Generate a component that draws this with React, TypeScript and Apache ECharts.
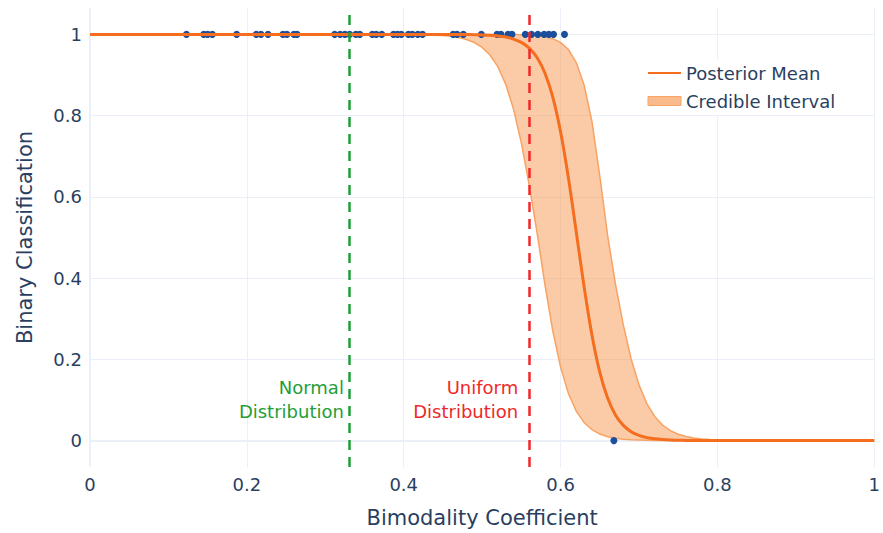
import { useEffect, useRef } from 'react';
import * as echarts from 'echarts';

// Grid of bimodality-coefficient values at which the logistic fit is summarised
const curveX = [
  0, 0.1, 0.2, 0.3, 0.4, 0.42, 0.44, 0.45, 0.46, 0.47, 0.48, 0.49, 0.5, 0.51, 0.52, 0.53, 0.54,
  0.55, 0.56, 0.57, 0.58, 0.59, 0.6, 0.61, 0.62, 0.63, 0.64, 0.65, 0.66, 0.67, 0.68, 0.69, 0.7,
  0.71, 0.72, 0.73, 0.74, 0.75, 0.76, 0.77, 0.78, 0.79, 0.8, 0.82, 0.85, 0.9, 1.0,
];

// Posterior mean of P(class = 1)
const meanY = [
  1, 1, 1, 1, 1, 1, 1, 0.9999, 0.9999, 0.9998, 0.9996, 0.9993, 0.9987, 0.9978, 0.9962, 0.9934, 0.9885,
  0.9803, 0.9663, 0.943, 0.9051, 0.8462, 0.7604, 0.6468, 0.5137, 0.3787, 0.2602, 0.1687, 0.1048, 0.0633,
  0.0375, 0.022, 0.0128, 0.0074, 0.0043, 0.0025, 0.0014, 0.0008, 0.0005, 0.0003, 0.0002, 0.0001, 0.0001,
  0, 0, 0, 0,
];

// Lower edge of the credible interval
const lowerY = [
  1, 1, 1, 1, 0.9997, 0.9993, 0.9981, 0.997, 0.9952, 0.9922, 0.9875, 0.98, 0.968, 0.9493, 0.9206, 0.8776,
  0.8161, 0.733, 0.6295, 0.5125, 0.3846, 0.2709, 0.1809, 0.1161, 0.0724, 0.0444, 0.0268, 0.0161, 0.0097,
  0.0058, 0.0034, 0.002, 0.0012, 0.0007, 0.0004, 0.0002, 0.0001, 0, 0, 0, 0, 0, 0, 0, 0, 0, 0,
];

// Upper edge of the credible interval
const upperY = [
  1, 1, 1, 1, 1, 1, 1, 1, 1, 1, 1, 1, 1, 1, 0.9999, 0.9998, 0.9996, 0.9992, 0.9985, 0.9971, 0.9945,
  0.9895, 0.9802, 0.9627, 0.9309, 0.8754, 0.7858, 0.652, 0.505, 0.385, 0.285, 0.201, 0.1371, 0.0911,
  0.0595, 0.0384, 0.0246, 0.0157, 0.01, 0.0063, 0.004, 0.0025, 0.0016, 0.0006, 0.0002, 0, 0,
];

// Observed coefficients, split by binary class
const classOneX = [
  0.123, 0.145, 0.15, 0.156, 0.187, 0.212, 0.218, 0.227, 0.246, 0.251, 0.26, 0.264, 0.312, 0.319,
  0.325, 0.331, 0.339, 0.344, 0.36, 0.365, 0.372, 0.387, 0.392, 0.397, 0.406, 0.411, 0.418, 0.424,
  0.463, 0.468, 0.476, 0.499, 0.519, 0.524, 0.533, 0.538, 0.555, 0.563, 0.571, 0.579, 0.585, 0.591,
  0.605,
];
const classZeroX = [0.668];

// Reference bimodality coefficients
const normalBC = 0.3333;
const uniformBC = 0.5556;

const yTicks = [0, 0.2, 0.4, 0.6, 0.8, 1];

const FONT = '"DejaVu Sans", Verdana, sans-serif';
const INK = '#2a3f5f';
const GRID = '#ebf0f8';
const ORANGE = '#f56e1f';
const BAND_EDGE = '#f8a263';
const BAND_FILL = 'rgba(247, 140, 60, 0.45)';
const GREEN = '#1f9e38';
const RED = '#f02828';
const BLUE = '#1b4f9c';

export default function App() {
  const ref = useRef<HTMLDivElement>(null);

  useEffect(() => {
    document.body.style.margin = '0';
    if (!ref.current) return;
    const chart = echarts.init(ref.current, undefined, { renderer: 'svg' });

    chart.setOption({
      animation: false,
      textStyle: { fontFamily: FONT },
      grid: { left: 90, right: 5, top: 8, bottom: 66, containLabel: false },
      legend: {
        orient: 'vertical',
        left: 642,
        top: 59,
        padding: 5,
        backgroundColor: '#ffffff',
        itemWidth: 33,
        itemHeight: 9,
        itemGap: 10,
        textStyle: { fontSize: 18, color: INK, fontFamily: FONT },
        data: [
          { name: 'Posterior Mean', itemStyle: { opacity: 0 } },
          {
            name: 'Credible Interval',
            icon: 'rect',
            itemStyle: { color: '#fabb8c', borderColor: BAND_EDGE, borderWidth: 1 },
          },
        ],
      },
      xAxis: {
        type: 'value',
        min: 0,
        max: 1,
        interval: 0.2,
        name: 'Bimodality Coefficient',
        nameLocation: 'middle',
        nameGap: 40,
        nameTextStyle: { fontSize: 21, color: INK, fontFamily: FONT },
        axisLine: { show: false },
        axisTick: { show: false },
        axisLabel: { fontSize: 18, color: INK, margin: 8, fontFamily: FONT },
        splitLine: { show: true, lineStyle: { color: GRID, width: 1 } },
      },
      yAxis: {
        type: 'value',
        min: -0.065,
        max: 1.065,
        name: 'Binary Classification',
        nameLocation: 'middle',
        nameGap: 55,
        nameTextStyle: { fontSize: 21, color: INK, fontFamily: FONT },
        axisLine: { show: false },
        axisTick: { show: false },
        splitLine: { show: false },
        axisLabel: {
          fontSize: 18,
          color: INK,
          margin: 8,
          fontFamily: FONT,
          showMinLabel: false,
          showMaxLabel: false,
          formatter: (v: number) => {
            const t = yTicks.find((k) => Math.abs(k - v) < 1e-6);
            return t === undefined ? '' : String(t);
          },
        },
      },
      series: [
        {
          // horizontal grid lines plus the zero lines, kept beneath every mark
          name: 'grid',
          type: 'line',
          data: [],
          z: 0,
          silent: true,
          markLine: {
            z: 0,
            silent: true,
            symbol: 'none',
            label: { show: false },
            data: [
              ...yTicks.map((v) => ({
                yAxis: v,
                lineStyle: { color: GRID, type: 'solid', width: v === 0 ? 2 : 1 },
              })),
              { xAxis: 0, lineStyle: { color: GRID, type: 'solid', width: 2 } },
            ],
          },
        },
        {
          // band between the lower and upper credible bounds, outlined by both edges
          name: 'Credible Interval',
          type: 'custom',
          z: 2,
          silent: true,
          itemStyle: { color: '#fabb8c' },
          data: [[0, 1]],
          renderItem: (_params: any, api: any) => {
            const top = curveX.map((x, i) => api.coord([x, upperY[i]]));
            const bottom = curveX.map((x, i) => api.coord([x, lowerY[i]])).reverse();
            return {
              type: 'polygon',
              shape: { points: [...top, ...bottom] },
              style: { fill: BAND_FILL, stroke: BAND_EDGE, lineWidth: 1.5 },
            };
          },
        },
        {
          name: 'Observations',
          type: 'scatter',
          z: 3,
          symbolSize: 7,
          itemStyle: { color: BLUE, opacity: 1 },
          data: [...classOneX.map((x) => [x, 1]), ...classZeroX.map((x) => [x, 0])],
        },
        {
          name: 'Posterior Mean',
          type: 'line',
          z: 4,
          symbol: 'none',
          smooth: 0.3,
          lineStyle: { color: ORANGE, width: 3 },
          itemStyle: { color: ORANGE },
          data: curveX.map((x, i) => [x, meanY[i]]),
        },
        {
          name: 'labels',
          type: 'scatter',
          z: 5,
          silent: true,
          symbolSize: 1,
          itemStyle: { color: 'rgba(0,0,0,0)', opacity: 1 },
          data: [
            {
              value: [normalBC, 0.1],
              label: { formatter: 'Normal\nDistribution', color: GREEN },
            },
            {
              value: [uniformBC, 0.1],
              label: { formatter: 'Uniform\nDistribution', color: RED },
            },
          ],
          label: {
            show: true,
            position: 'left',
            distance: 7,
            align: 'right',
            fontSize: 18,
            lineHeight: 24,
            fontFamily: FONT,
            opacity: 1,
          },
        },
        {
          name: 'refs',
          type: 'line',
          data: [],
          z: 10,
          silent: true,
          markLine: {
            z: 10,
            silent: true,
            symbol: 'none',
            label: { show: false },
            data: [
              { xAxis: normalBC, lineStyle: { color: GREEN, type: [10, 7], width: 2.5 } },
              { xAxis: uniformBC, lineStyle: { color: RED, type: [10, 7], width: 2.5 } },
            ],
          },
        },
      ],
    });

    return () => chart.dispose();
  }, []);

  return <div ref={ref} style={{ width: 883, height: 533 }} />;
}
